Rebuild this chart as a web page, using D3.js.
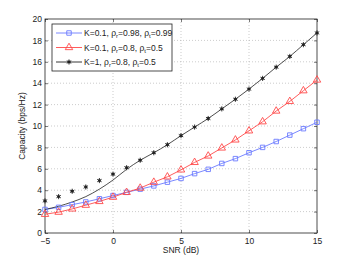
<!DOCTYPE html>
<html>
<head>
<meta charset="utf-8">
<script src="https://cdn.jsdelivr.net/npm/d3@7"></script>
<style>
  body { margin: 0; background: #fff; }
  text { font-family: "Liberation Sans", Arial, sans-serif; }
</style>
</head>
<body>
<svg width="350" height="264"></svg>
<script>
// data
var snr = [-5,-4,-3,-2,-1,0,1,2,3,4,5,6,7,8,9,10,11,12,13,14,15];
var blueVals  = [2.2,2.4,2.65,2.9,3.2,3.5,3.8,4.1,4.4,4.75,5.1,5.55,5.95,6.5,6.95,7.5,8.0,8.55,9.15,9.75,10.35];
var redVals   = [1.75,1.95,2.25,2.6,2.95,3.35,3.8,4.2,4.75,5.25,5.9,6.6,7.2,7.95,8.7,9.55,10.4,11.4,12.3,13.3,14.3];
var blackPts  = [3.0,3.4,3.9,4.3,4.9,5.5,6.1,6.8,7.5,8.25,9.1,9.9,10.7,11.6,12.5,13.45,14.45,15.5,16.5,17.6,18.7];
var blackLine = [2.2,2.5,2.9,3.4,4.1,4.95,5.95,6.8,7.5,8.25,9.1,9.9,10.7,11.6,12.5,13.45,14.45,15.5,16.5,17.6,18.7];
var xTicks = [-5,0,5,10,15];
var yTicks = [0,2,4,6,8,10,12,14,16,18,20];
var legendRows = [
  {K:"0.1", r:"0.98", t:"0.99"},
  {K:"0.1", r:"0.8",  t:"0.5"},
  {K:"1",   r:"0.8",  t:"0.5"}
];

var blue = "#6b7bff", red = "#ff4a4a", black = "#222";
var svg = d3.select("svg");
var x = d3.scaleLinear().domain([-5, 15]).range([45, 317]);
var y = d3.scaleLinear().domain([0, 20]).range([233, 19]);

// grid
var g = svg.append("g");
g.selectAll(".gx").data(xTicks.slice(1, -1)).enter().append("line")
  .attr("x1", d => x(d)).attr("x2", d => x(d)).attr("y1", y(0)).attr("y2", y(20))
  .attr("stroke", "#aaa").attr("stroke-width", 0.6).attr("stroke-dasharray", "1,2");
g.selectAll(".gy").data(yTicks.slice(1, -1)).enter().append("line")
  .attr("x1", x(-5)).attr("x2", x(15)).attr("y1", d => y(d)).attr("y2", d => y(d))
  .attr("stroke", "#aaa").attr("stroke-width", 0.6).attr("stroke-dasharray", "1,2");

// axes
svg.append("g").attr("transform", "translate(0," + y(0) + ")")
  .call(d3.axisBottom(x).tickValues(xTicks).tickSize(-3).tickPadding(5))
  .call(a => a.select(".domain").remove());
svg.append("g").attr("transform", "translate(" + x(-5) + ",0)")
  .call(d3.axisLeft(y).tickValues(yTicks).tickSize(-3).tickPadding(3))
  .call(a => a.select(".domain").remove());
svg.append("g").attr("transform", "translate(0," + y(20) + ")")
  .call(d3.axisTop(x).tickValues(xTicks).tickSize(-3).tickFormat(""))
  .call(a => a.select(".domain").remove());
svg.append("g").attr("transform", "translate(" + x(15) + ",0)")
  .call(d3.axisRight(y).tickValues(yTicks).tickSize(-3).tickFormat(""))
  .call(a => a.select(".domain").remove());
svg.selectAll(".tick text").attr("font-size", 8.5).attr("fill", "#222")
  .style("font-family", "Liberation Sans, Arial, sans-serif");
svg.selectAll(".tick line").attr("stroke", "#222").attr("stroke-width", 0.6);
svg.append("rect").attr("x", x(-5)).attr("y", y(20))
  .attr("width", x(15) - x(-5)).attr("height", y(0) - y(20))
  .attr("fill", "none").attr("stroke", "#222").attr("stroke-width", 0.8);

svg.append("text").attr("x", (x(-5) + x(15)) / 2).attr("y", 253)
  .attr("text-anchor", "middle").attr("font-size", 8.5).attr("fill", "#222").text("SNR (dB)");
svg.append("text").attr("transform", "translate(25," + ((y(0) + y(20)) / 2) + ") rotate(-90)")
  .attr("text-anchor", "middle").attr("font-size", 8.5).attr("fill", "#222").text("Capacity (bps/Hz)");

// lines
var line = d3.line().x(d => x(d[0])).y(d => y(d[1]));
var curve = d3.line().x(d => x(d[0])).y(d => y(d[1])).curve(d3.curveMonotoneX);
svg.append("path").attr("d", line(d3.zip(snr, blueVals)))
  .attr("fill", "none").attr("stroke", blue).attr("stroke-width", 0.9);
svg.append("path").attr("d", line(d3.zip(snr, redVals)))
  .attr("fill", "none").attr("stroke", red).attr("stroke-width", 0.9);
svg.append("path").attr("d", curve(d3.zip(snr, blackLine)))
  .attr("fill", "none").attr("stroke", black).attr("stroke-width", 0.8);

// markers
var sq = d3.symbol().type(d3.symbolSquare).size(20);
var tri = d3.symbol().type(d3.symbolTriangle).size(24);
var star = d3.symbol().type(d3.symbolAsterisk).size(18);
function drawMarkers(vals, sym, col, fill) {
  svg.append("g").selectAll("path").data(d3.zip(snr, vals)).enter().append("path")
    .attr("transform", d => "translate(" + x(d[0]) + "," + y(d[1]) + ")")
    .attr("d", sym).attr("fill", fill).attr("stroke", col).attr("stroke-width", 0.9);
}
drawMarkers(blueVals, sq, blue, "none");
drawMarkers(redVals, tri, red, "none");
drawMarkers(blackPts, star, black, "none");
svg.append("g").selectAll("circle").data(d3.zip(snr, blackPts)).enter().append("circle")
  .attr("cx", d => x(d[0])).attr("cy", d => y(d[1])).attr("r", 1.4).attr("fill", black);

// legend
var lg = svg.append("g").attr("transform", "translate(52,24)");
lg.append("rect").attr("width", 120).attr("height", 47)
  .attr("fill", "#fff").attr("stroke", "#222").attr("stroke-width", 0.8);
var cols = [blue, red, black], syms = [sq, tri, star];
legendRows.forEach(function (r, i) {
  var cy = 9 + i * 14.5;
  lg.append("line").attr("x1", 4).attr("x2", 30).attr("y1", cy).attr("y2", cy)
    .attr("stroke", cols[i]).attr("stroke-width", 0.9);
  lg.append("path").attr("transform", "translate(17," + cy + ")").attr("d", syms[i])
    .attr("fill", "none").attr("stroke", cols[i]).attr("stroke-width", 0.9);
  if (i == 2) lg.append("circle").attr("cx", 17).attr("cy", cy).attr("r", 1.4).attr("fill", black);
  var t = lg.append("text").attr("x", 32).attr("y", cy + 3).attr("font-size", 8.5).attr("fill", "#222");
  t.append("tspan").text("K=" + r.K + ", \u03c1");
  t.append("tspan").attr("font-size", 6).attr("dy", 2).text("r");
  t.append("tspan").attr("dy", -2).text("=" + r.r + ", \u03c1");
  t.append("tspan").attr("font-size", 6).attr("dy", 2).text("t");
  t.append("tspan").attr("dy", -2).text("=" + r.t);
});
</script>
</body>
</html>
